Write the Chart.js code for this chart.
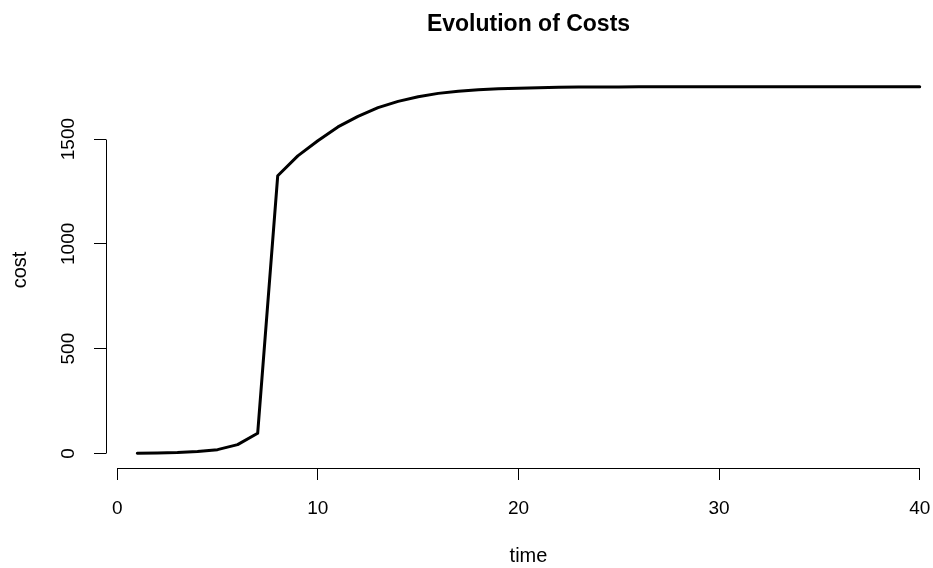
<!DOCTYPE html>
<html>
<head>
<meta charset="utf-8">
<script src="https://cdn.jsdelivr.net/npm/chart.js@4/dist/chart.umd.min.js"></script>
<style>
  html, body { margin: 0; padding: 0; background: #ffffff; overflow: hidden; width: 933px; height: 568px; }
  canvas { display: block; }
</style>
</head>
<body>
<canvas id="c" width="1057" height="568" style="width:1057px;height:568px"></canvas>
<script>
// ---- data ----
const chartTitle = 'Evolution of Costs';
const xTitle = 'time';
const yTitle = 'cost';
const time = [1, 2, 3, 4, 5, 6, 7, 8, 9, 10,
              11, 12, 13, 14, 15, 16, 17, 18, 19, 20,
              21, 22, 23, 24, 25, 26, 27, 28, 29, 30,
              31, 32, 33, 34, 35, 36, 37, 38, 39, 40];
const cost = [0.5, 1.5, 4, 9, 18, 42, 96, 1325, 1420, 1492,
              1558, 1608, 1650, 1680, 1702, 1718, 1728, 1735, 1740, 1743,
              1745, 1747, 1748, 1749, 1749, 1750, 1750, 1750, 1750, 1750,
              1750, 1750, 1750, 1750, 1750, 1750, 1750, 1750, 1750, 1750];
const xTicks = [0, 10, 20, 30, 40];
const yTicks = [0, 500, 1000, 1500];

// R-style 4% axis expansion
function expand(arr) {
  const lo = Math.min(...arr), hi = Math.max(...arr), e = (hi - lo) * 0.04;
  return [lo - e, hi + e];
}
const xLim = expand(time);
const yLim = expand(cost);

Chart.defaults.font.family = "'Liberation Sans', Arial, Helvetica, sans-serif";
Chart.defaults.color = '#000000';

function align1(p) { return Math.round(p - 0.5) + 0.5; }

// Draws R-style axis lines spanning first..last tick
const rAxes = {
  id: 'rAxes',
  afterDraw(chart) {
    const { ctx, chartArea, scales } = chart;
    const xs = scales.x, ys = scales.y;
    ctx.save();
    ctx.strokeStyle = '#000000';
    ctx.lineWidth = 1;
    ctx.beginPath();
    const yb = align1(chartArea.bottom);
    ctx.moveTo(align1(xs.getPixelForValue(xTicks[0])), yb);
    ctx.lineTo(align1(xs.getPixelForValue(xTicks[xTicks.length - 1])), yb);
    const xl = align1(chartArea.left);
    ctx.moveTo(xl, align1(ys.getPixelForValue(yTicks[0])));
    ctx.lineTo(xl, align1(ys.getPixelForValue(yTicks[yTicks.length - 1])));
    ctx.stroke();
    ctx.restore();
  }
};

new Chart(document.getElementById('c'), {
  type: 'line',
  data: {
    datasets: [{
      data: time.map((t, i) => ({ x: t, y: cost[i] })),
      borderColor: '#000000',
      borderWidth: 3,
      pointRadius: 0,
      fill: false,
      tension: 0,
      borderJoinStyle: 'round',
      borderCapStyle: 'round'
    }]
  },
  options: {
    responsive: false,
    animation: false,
    devicePixelRatio: 1,
    layout: { padding: 0 },
    plugins: {
      legend: { display: false },
      tooltip: { enabled: false },
      title: {
        display: true,
        text: chartTitle,
        color: '#000000',
        font: { size: 23, weight: 'bold' },
        padding: { top: 11, bottom: 33.4 }
      }
    },
    scales: {
      x: {
        type: 'linear',
        position: 'bottom',
        min: xLim[0],
        max: xLim[1],
        afterBuildTicks(s) { s.ticks = xTicks.map(v => ({ value: v })); },
        afterFit(s) { s.height = 100; },
        border: { display: false },
        grid: { display: true, drawOnChartArea: false, drawTicks: true, tickLength: 12, color: '#000000', lineWidth: 1 },
        ticks: { color: '#000000', font: { size: 19 }, padding: 17, maxRotation: 0, minRotation: 0, autoSkip: false,
                 callback: v => String(v) },
        title: { display: true, text: xTitle, color: '#000000', font: { size: 20 }, padding: { top: 0, bottom: 0 } }
      },
      y: {
        type: 'linear',
        position: 'left',
        min: yLim[0],
        max: yLim[1],
        afterBuildTicks(s) { s.ticks = yTicks.map(v => ({ value: v })); },
        afterFit(s) { s.width = 106; },
        border: { display: false },
        grid: { display: true, drawOnChartArea: false, drawTicks: true, tickLength: 12, color: '#000000', lineWidth: 1 },
        ticks: { color: '#000000', font: { size: 19 }, padding: 4, minRotation: 90, maxRotation: 90, crossAlign: 'center', autoSkip: false,
                 callback: v => String(v) },
        title: { display: true, text: yTitle, color: '#000000', font: { size: 20 }, padding: { top: 8, bottom: 0 } }
      },
      y2: {
        type: 'linear',
        position: 'right',
        display: true,
        afterFit(s) { s.width = 106; },
        border: { display: false },
        grid: { display: false },
        ticks: { display: false }
      }
    }
  },
  plugins: [rAxes]
});
</script>
</body>
</html>
